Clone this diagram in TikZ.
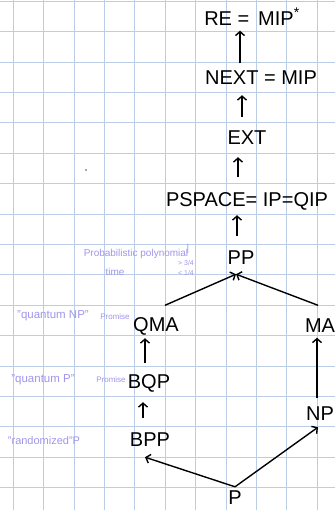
\documentclass[tikz,border=0pt]{standalone}
\usepackage{fontspec}
\setmainfont{Liberation Sans}
\usetikzlibrary{arrows.meta}
\definecolor{gridblue}{RGB}{188,205,233}
\definecolor{notepurple}{RGB}{160,150,235}
\tikzset{
  cls/.style={font=\fontsize{20}{20}\selectfont, text=black, inner xsep=0pt,
    inner ysep=5pt, text height=15pt, text depth=0pt},
  note/.style={font=\fontsize{10}{10}\selectfont, text=notepurple, inner sep=0pt},
  arr/.style={draw=black, line width=1.4pt, -{Straight Barb[length=4pt,width=9pt]}},
}
\begin{document}
\begin{tikzpicture}[x=1pt,y=-1pt]
  \useasboundingbox (0,0) rectangle (335,510);
  \fill[white] (0,0) rectangle (335,510);
  % squared paper
  \foreach \i in {0,...,10}
    \draw[gridblue, line width=1pt] ({13.3+30.4*\i},0) -- ({13.3+30.4*\i},510);
  \foreach \j in {0,...,16}
    \draw[gridblue, line width=1pt] (0,{1.3+30.4*\j}) -- (335,{1.3+30.4*\j});

  % complexity classes
  \node[cls] (RE)     at (252,18)  {RE =\, MIP\textsuperscript{*}};
  \node[cls] (NEXT)   at (261,77)  {NEXT = MIP};
  \node[cls] (EXT)    at (247,137) {EXT};
  \node[cls] (PSPACE) at (247,199) {PSPACE= IP=QIP};
  \node[cls] (PP)     at (241,257) {PP};
  \node[cls] (QMA)    at (156,324) {QMA};
  \node[cls] (MA)     at (320,325) {MA};
  \node[cls] (BQP)    at (149,381) {BQP};
  \node[cls] (NP)     at (320,413) {NP};
  \node[cls] (BPP)    at (150,439) {BPP};
  \node[cls] (P)      at (235,497) {P};

  % inclusions
  \draw[arr] ([xshift=-21pt,yshift=1pt]NEXT.north) -- ([xshift=-12pt]RE.south);
  \draw[arr] ([xshift=-5pt,yshift=7.5pt]EXT.north) -- ([xshift=-19pt,yshift=-5.5pt]NEXT.south);
  \draw[arr] ([xshift=-9pt,yshift=9.5pt]PSPACE.north) -- ([xshift=-9pt,yshift=-7.5pt]EXT.south);
  \draw[arr] ([xshift=-4pt,yshift=8.5pt]PP.north) -- ([xshift=-10pt,yshift=-3.5pt]PSPACE.south);
  \draw[arr] ([xshift=9pt,yshift=6pt]QMA.north) -- ([xshift=-5pt,yshift=-4.5pt]PP.south);
  \draw[arr] ([xshift=-2pt,yshift=7pt]MA.north) -- ([xshift=-5pt,yshift=-4.5pt]PP.south);
  \draw[arr] ([xshift=-4pt,yshift=5pt]BQP.north) -- ([xshift=-11pt,yshift=-1.5pt]QMA.south);
  \draw[arr] ([xshift=-7pt,yshift=8.5pt]BPP.north) -- ([xshift=-6pt,yshift=-8.5pt]BQP.south);
  \draw[arr] ([yshift=-2.5pt]P.north) -- ([xshift=-5pt,yshift=-5.5pt]BPP.south);
  \draw[arr] ([yshift=-2.5pt]P.north) -- ([xshift=-2pt,yshift=-1.5pt]NP.south);
  \draw[arr] ([xshift=-3pt,yshift=2.5pt]NP.north) -- ([xshift=-3pt]MA.south);

  % margin notes
  \node[note] (pptxt) at (136,254) {Probabilistic polynomial};
  \node[note] (pptime) at (115,272) {time};
  \node[note] (ppbar) at (188,249) {|};
  \node[note, font=\fontsize{7}{7}\selectfont] (ppyes) at (186,263) {> 3/4};
  \node[note, font=\fontsize{7}{7}\selectfont] (ppno) at (186,273) {< 1/4};
  \node[note, font=\fontsize{11.5}{11.5}\selectfont] (qnp) at (53,316) {"quantum NP"};
  \node[note, font=\fontsize{8}{8}\selectfont] (qnppr) at (115,317) {Promise};
  \node[note, font=\fontsize{11.5}{11.5}\selectfont] (qp) at (43,380) {"quantum P"};
  \node[note, font=\fontsize{8}{8}\selectfont] (qppr) at (111,380) {Promise};
  \node[note, font=\fontsize{11}{11}\selectfont] (rp) at (44,441) {"randomized"P};

  % stray pen mark
  \fill[black!70] (86,170) circle (0.9);
\end{tikzpicture}
\end{document}
